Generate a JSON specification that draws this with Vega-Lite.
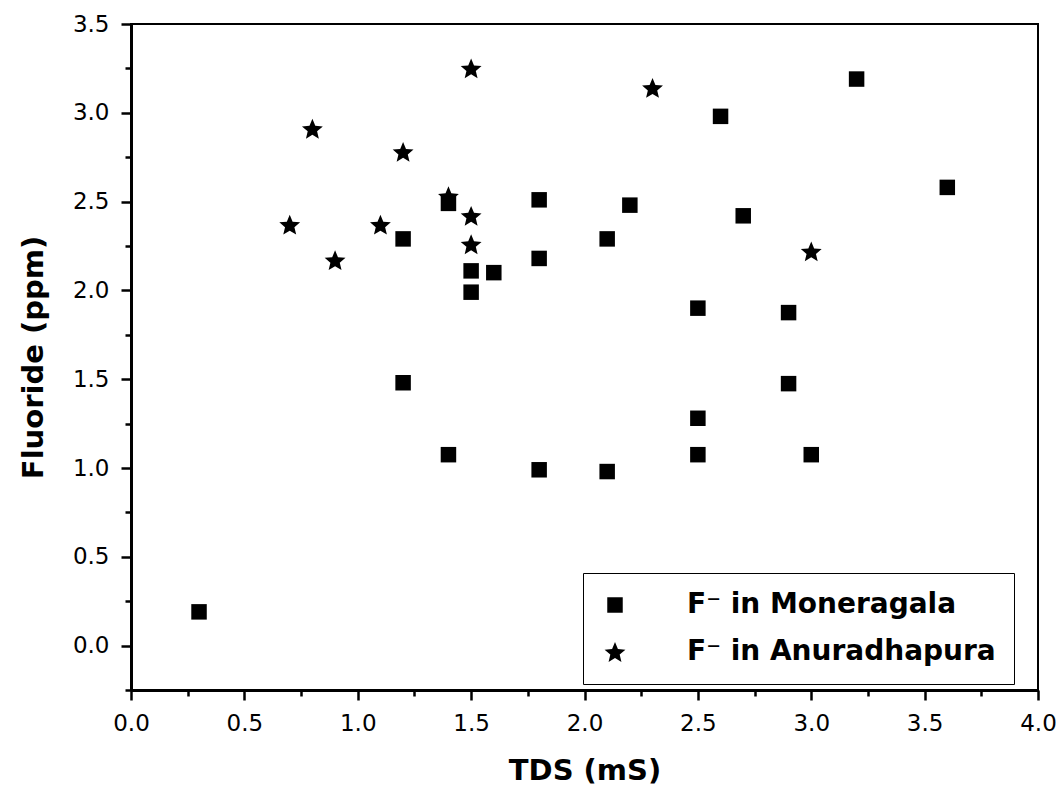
{
  "$schema": "https://vega.github.io/schema/vega-lite/v6.json",
  "autosize": {"type": "none"},
  "padding": {"left": 131, "top": 24, "right": 25, "bottom": 104},
  "width": 907,
  "height": 666,
  "background": "white",
  "config": {
    "font": "DejaVu Sans",
    "view": {"stroke": "black", "strokeWidth": 2},
    "axis": {"domainColor": "black", "domainWidth": 3, "tickColor": "black", "tickWidth": 2.5, "grid": false, "labelColor": "black", "titleColor": "black", "labelFont": "DejaVu Sans", "titleFont": "DejaVu Sans"},
    "legend": {"labelFont": "DejaVu Sans"}
  },
  "data": {"values": [
    {"tds": 0.3, "f": 0.19, "site": "F⁻ in Moneragala"},
    {"tds": 1.2, "f": 2.29, "site": "F⁻ in Moneragala"},
    {"tds": 1.2, "f": 1.48, "site": "F⁻ in Moneragala"},
    {"tds": 1.4, "f": 1.075, "site": "F⁻ in Moneragala"},
    {"tds": 1.4, "f": 2.49, "site": "F⁻ in Moneragala"},
    {"tds": 1.5, "f": 2.11, "site": "F⁻ in Moneragala"},
    {"tds": 1.5, "f": 1.99, "site": "F⁻ in Moneragala"},
    {"tds": 1.6, "f": 2.1, "site": "F⁻ in Moneragala"},
    {"tds": 1.8, "f": 2.51, "site": "F⁻ in Moneragala"},
    {"tds": 1.8, "f": 2.18, "site": "F⁻ in Moneragala"},
    {"tds": 1.8, "f": 0.99, "site": "F⁻ in Moneragala"},
    {"tds": 2.1, "f": 2.29, "site": "F⁻ in Moneragala"},
    {"tds": 2.1, "f": 0.98, "site": "F⁻ in Moneragala"},
    {"tds": 2.2, "f": 2.48, "site": "F⁻ in Moneragala"},
    {"tds": 2.6, "f": 2.98, "site": "F⁻ in Moneragala"},
    {"tds": 2.7, "f": 2.42, "site": "F⁻ in Moneragala"},
    {"tds": 2.5, "f": 1.9, "site": "F⁻ in Moneragala"},
    {"tds": 2.5, "f": 1.28, "site": "F⁻ in Moneragala"},
    {"tds": 2.5, "f": 1.075, "site": "F⁻ in Moneragala"},
    {"tds": 2.9, "f": 1.875, "site": "F⁻ in Moneragala"},
    {"tds": 2.9, "f": 1.475, "site": "F⁻ in Moneragala"},
    {"tds": 3.0, "f": 1.075, "site": "F⁻ in Moneragala"},
    {"tds": 3.2, "f": 3.19, "site": "F⁻ in Moneragala"},
    {"tds": 3.6, "f": 2.58, "site": "F⁻ in Moneragala"},
    {"tds": 1.5, "f": 3.25, "site": "F⁻ in Anuradhapura"},
    {"tds": 2.3, "f": 3.14, "site": "F⁻ in Anuradhapura"},
    {"tds": 0.8, "f": 2.91, "site": "F⁻ in Anuradhapura"},
    {"tds": 1.2, "f": 2.78, "site": "F⁻ in Anuradhapura"},
    {"tds": 1.4, "f": 2.53, "site": "F⁻ in Anuradhapura"},
    {"tds": 1.5, "f": 2.42, "site": "F⁻ in Anuradhapura"},
    {"tds": 1.5, "f": 2.26, "site": "F⁻ in Anuradhapura"},
    {"tds": 0.7, "f": 2.37, "site": "F⁻ in Anuradhapura"},
    {"tds": 1.1, "f": 2.37, "site": "F⁻ in Anuradhapura"},
    {"tds": 0.9, "f": 2.17, "site": "F⁻ in Anuradhapura"},
    {"tds": 3.0, "f": 2.22, "site": "F⁻ in Anuradhapura"}
  ]},
  "mark": {"type": "point", "filled": true, "opacity": 1},
  "encoding": {
    "x": {
      "field": "tds", "type": "quantitative",
      "scale": {"domain": [0, 4], "nice": false, "zero": false},
      "axis": {
        "title": "TDS (mS)", "titleFontSize": 29, "titleFontWeight": "bold", "titlePadding": 21,
        "values": [0, 0.25, 0.5, 0.75, 1, 1.25, 1.5, 1.75, 2, 2.25, 2.5, 2.75, 3, 3.25, 3.5, 3.75, 4],
        "labelExpr": "datum.value % 0.5 == 0 ? format(datum.value, '.1f') : ''",
        "tickSize": {"condition": {"test": "datum.value % 0.5 == 0", "value": 10}, "value": 6},
        "labelFontSize": 23, "labelPadding": 12, "labelOverlap": false, "labelFlush": false
      }
    },
    "y": {
      "field": "f", "type": "quantitative",
      "scale": {"domain": [-0.25, 3.5], "nice": false, "zero": false},
      "axis": {
        "title": "Fluoride (ppm)", "titleFontSize": 29, "titleFontWeight": "bold", "titlePadding": 24,
        "values": [-0.25, 0, 0.25, 0.5, 0.75, 1, 1.25, 1.5, 1.75, 2, 2.25, 2.5, 2.75, 3, 3.25, 3.5],
        "labelExpr": "datum.value % 0.5 == 0 ? format(datum.value, '.1f') : ''",
        "tickSize": {"condition": {"test": "datum.value % 0.5 == 0", "value": 10}, "value": 6},
        "labelFontSize": 23, "labelPadding": 12, "labelOverlap": false, "labelFlush": false
      }
    },
    "shape": {
      "field": "site", "type": "nominal",
      "scale": {"domain": ["F⁻ in Moneragala", "F⁻ in Anuradhapura"], "range": ["square", "M0,-0.905L0.265,-0.269L0.951,-0.214L0.428,0.234L0.588,0.905L0,0.545L-0.588,0.905L-0.428,0.234L-0.951,-0.214L-0.265,-0.269Z"]},
      "legend": {
        "title": null, "orient": "none", "legendX": 452, "legendY": 549,
        "fillColor": "white", "strokeColor": "black", "padding": 18,
        "labelFontSize": 28, "labelFontWeight": "bold", "labelOffset": 58, "labelColor": "black",
        "symbolFillColor": "black", "symbolStrokeColor": "black", "rowPadding": 19, "labelLimit": 600
      }
    },
    "size": {
      "field": "site", "type": "nominal",
      "scale": {"domain": ["F⁻ in Moneragala", "F⁻ in Anuradhapura"], "range": [240, 480]},
      "legend": {
        "title": null, "orient": "none", "legendX": 452, "legendY": 549,
        "fillColor": "white", "strokeColor": "black", "padding": 18,
        "labelFontSize": 28, "labelFontWeight": "bold", "labelOffset": 58, "labelColor": "black",
        "symbolFillColor": "black", "symbolStrokeColor": "black", "rowPadding": 19, "labelLimit": 600
      }
    },
    "color": {"value": "black"}
  }
}
